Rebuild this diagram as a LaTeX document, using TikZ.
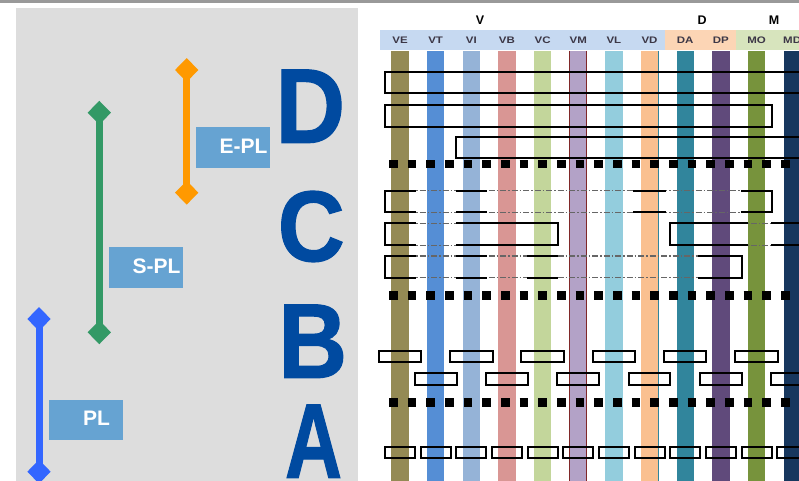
\documentclass[tikz,border=0pt]{standalone}
\usepackage{fontspec}
\usepackage{graphicx}
\setmainfont{Liberation Sans}
\newfontfamily\bigfont{Liberation Sans Bold}[FakeBold=1.2]
\usetikzlibrary{shapes.geometric}
\definecolor{topgray}{RGB}{153,153,153}
\definecolor{panelgray}{RGB}{221,221,221}
\definecolor{plorange}{RGB}{255,153,0}
\definecolor{plgreen}{RGB}{51,153,102}
\definecolor{plblue}{RGB}{51,102,255}
\definecolor{plboxcol}{RGB}{102,163,210}
\definecolor{bigblue}{RGB}{0,74,160}
\definecolor{hdblue}{RGB}{198,217,241}
\definecolor{hdpeach}{RGB}{252,213,181}
\definecolor{hdgreen}{RGB}{215,228,189}
\definecolor{colVE}{RGB}{148,138,84}
\definecolor{colVT}{RGB}{85,142,213}
\definecolor{colVI}{RGB}{149,179,215}
\definecolor{colVB}{RGB}{217,150,148}
\definecolor{colVC}{RGB}{195,214,155}
\definecolor{colVM}{RGB}{179,162,199}
\definecolor{colVL}{RGB}{147,205,221}
\definecolor{colVD}{RGB}{250,192,144}
\definecolor{colDA}{RGB}{49,133,156}
\definecolor{colDP}{RGB}{96,74,123}
\definecolor{colMO}{RGB}{119,147,60}
\definecolor{colMD}{RGB}{23,55,94}
\definecolor{vmred}{RGB}{128,40,40}
\definecolor{labdark}{RGB}{60,55,70}
\newcommand\brokenrect[5]{%
  \draw[gdash] (#1,#2) -- (#3,#2);
  \draw[gdash] (#1,#4) -- (#3,#4);
  \draw[rline] (#1,#2) -- (#1,#4);
  \draw[rline] (#3,#2) -- (#3,#4);
  \foreach \a/\b in {#5} {
    \draw[rline] (\a,#2) -- (\b,#2);
    \draw[rline] (\a,#4) -- (\b,#4);
  }%
}
\begin{document}
\begin{tikzpicture}[x=1pt,y=-1pt,
  dia/.style={diamond,minimum width=23.5pt,minimum height=24pt,inner sep=0pt,draw=none},
  plline/.style={line width=7pt},
  plbox/.style={fill=plboxcol,text=white,minimum width=74pt,minimum height=40.7pt,inner sep=0pt,
                font=\bfseries\fontsize{21}{21}\selectfont},
  bigletter/.style={inner sep=0pt,anchor=base west,text=bigblue,font=\bigfont\fontsize{106}{106}\selectfont},
  grplab/.style={font=\bfseries\fontsize{12.5}{12.5}\selectfont,inner sep=0pt},
  collab/.style={font=\bfseries\fontsize{10}{10}\selectfont,text=labdark,inner sep=0pt},
  rbox/.style={draw=black,line width=2pt},
  rline/.style={draw=black,line width=2pt,line cap=rect},
  gdash/.style={draw=black!60,line width=1.4pt,dash pattern=on 6pt off 2pt on 1.5pt off 2pt},
  sq/.style={line width=8.7pt,dash pattern=on 8.7pt off 9.97pt}]
\useasboundingbox (0,0) rectangle (799,481);
\fill[white] (0,0) rectangle (799,481);
\fill[topgray] (0,0) rectangle (799,3.4);
\fill[panelgray] (16,8) rectangle (357.7,481);

% left panel: ranges
\draw[plline,plorange] (186.7,70) coordinate (e1c) -- (186.7,192.7) coordinate (e2c);
\node[dia,fill=plorange] (e1) at (e1c) {};
\node[dia,fill=plorange] (e2) at (e2c) {};
\draw[plline,plgreen] (99.3,112.7) coordinate (s1c) -- (99.3,332.3) coordinate (s2c);
\node[dia,fill=plgreen] (s1) at (s1c) {};
\node[dia,fill=plgreen] (s2) at (s2c) {};
\draw[plline,plblue] (39,319) coordinate (p1c) -- (39,471.7) coordinate (p2c);
\node[dia,fill=plblue] (p1) at (p1c) {};
\node[dia,fill=plblue] (p2) at (p2c) {};

\node[plbox] (epl) at (233,147.3) {\raisebox{2.5pt}{\hspace*{21pt}E-PL}};
\node[plbox] (spl) at (146,267.3) {\raisebox{2.5pt}{\hspace*{21pt}S-PL}};
\node[plbox] (pl)  at (86,420)    {\raisebox{2.5pt}{\hspace*{21pt}PL}};

\node[bigletter] (lD) at (275.3,142.7) {\scalebox{0.91}[1]{D}};
\node[bigletter] (lC) at (277.6,261)   {\scalebox{0.874}[0.946]{C}};
\node[bigletter] (lB) at (278,377.7)   {\scalebox{0.901}[1]{B}};
\node[bigletter] (lA) at (284.8,477.7) {\scalebox{0.745}[1]{A}};

% right panel
\begin{scope}
\clip (360,0) rectangle (799,481);
\fill[hdblue]  (380,30) rectangle (665,50);
\fill[hdpeach] (665,30) rectangle (735.7,50);
\fill[hdgreen] (735.7,30) rectangle (812,50);
\node[grplab] (gV) at (480,20) {V};
\node[grplab] (gD) at (702,20) {D};
\node[grplab] (gM) at (774,20) {M};
\foreach \n [count=\k from 0] in {VE,VT,VI,VB,VC,VM,VL,VD,DA,DP,MO,MD} {
  \fill[col\n] ({400+35.65*\k-8.65},51) rectangle ({400+35.65*\k+8.65},481);
  \node[collab] (h\n) at ({400+35.65*\k},40) {\scalebox{1.15}[0.95]{\n}};
}
\draw[vmred,line width=1pt] (569.8,51) -- (569.8,481) (586.4,51) -- (586.4,481);
\draw[colDA,line width=1pt] (658.5,51) -- (658.5,481);

% section D
\draw[rbox] (385,72) rectangle (812,93.3);
\draw[rbox] (385,105) rectangle (771.7,126.7);
\draw[rbox] (456,137) rectangle (812,158.3);

% separators
\draw[sq] (389,164) -- (792,164);
\draw[sq] (389,295.7) -- (792,295.7);
\draw[sq] (389,402.7) -- (792,402.7);

% section C
\brokenrect{385}{190.7}{771.7}{212.3}{385/415,457/486,634/665,742/771.7}
\brokenrect{385}{223.3}{557.7}{245.3}{385/415,457/557.7}
\brokenrect{670}{223.3}{812}{245.3}{670/746.7,771.7/812}
\brokenrect{385}{256}{741.7}{277.7}{385/415,457/486,528/557,699/741.7}

% section B
\foreach \k in {0,2,...,10}
  \draw[rbox] ({400+35.65*\k-21.25},350.7) rectangle ({400+35.65*\k+21.25},362.3);
\foreach \k in {1,3,...,11}
  \draw[rbox] ({400+35.65*\k-20.85},373) rectangle ({400+35.65*\k+20.85},384.7);

% section A
\foreach \k in {0,...,11}
  \draw[rbox] ({400+35.65*\k-15},446.7) rectangle ({400+35.65*\k+15},458.3);
\end{scope}
\end{tikzpicture}
\end{document}
